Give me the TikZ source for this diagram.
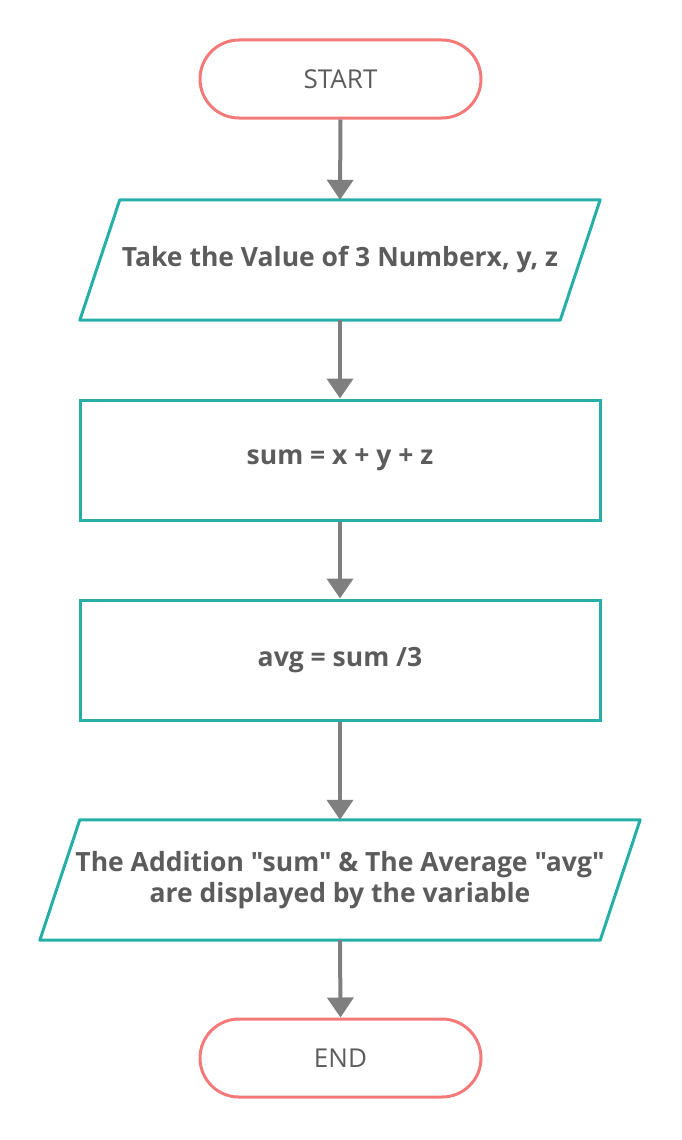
\documentclass[tikz,border=0pt]{standalone}
\usepackage{fontspec}
\setmainfont{Open Sans}[Ligatures=TeXOff]
\usetikzlibrary{arrows.meta,calc}
\definecolor{termc}{HTML}{F47A7A}
\definecolor{boxc}{HTML}{26AFA8}
\definecolor{arrc}{HTML}{7F7F7F}
\definecolor{txtc}{HTML}{5C5C5C}
\begin{document}
\begin{tikzpicture}[x=1pt,y=-1pt,
  term/.style={draw=termc,line width=3pt,rounded corners=39pt,minimum width=281pt,minimum height=78pt,inner sep=0pt,text=txtc,font=\fontsize{26}{31}\selectfont},
  proc/.style={draw=boxc,line width=3pt,minimum width=520pt,minimum height=120pt,inner sep=0pt,text=txtc,font=\fontsize{26.5}{31}\selectfont\bfseries},
  iobox/.style={minimum height=120pt,inner sep=0pt,text=txtc,font=\fontsize{26.5}{31}\selectfont\bfseries,align=center},
  iolines/.style={draw=boxc,line width=3pt,line join=round},
  flow/.style={draw=arrc,line width=4pt,-{Triangle[width=26pt,length=20pt]}}]
\useasboundingbox (0,0) rectangle (681,1140);
\node[term] (start) at (340.5,79) {START};
\node[iobox,minimum width=520pt] (in) at (340,260) {Take the Value of 3 Numberx, y, z};
\draw[iolines] ($(in.north west)+(40,0)$) -- (in.north east) -- ($(in.south east)+(-40,0)$) -- (in.south west) -- cycle;
\node[proc] (sum) at (340,460) {sum = x + y + z};
\node[proc] (avg) at (340,660) {avg = sum /3};
\node[iobox,minimum width=600pt] (out) at (340,880) {The Addition "sum" \& The Average "avg"\\are displayed by the variable};
\draw[iolines] ($(out.north west)+(40,0)$) -- (out.north east) -- ($(out.south east)+(-40,0)$) -- (out.south west) -- cycle;
\node[term] (end) at (340.5,1058) {END};
\draw[flow] (start.south) -- (in.north);
\draw[flow] (in.south) -- (sum.north);
\draw[flow] (sum.south) -- (avg.north);
\draw[flow] (avg.south) -- (out.north);
\draw[flow] (out.south) -- (end.north);
\end{tikzpicture}
\end{document}
